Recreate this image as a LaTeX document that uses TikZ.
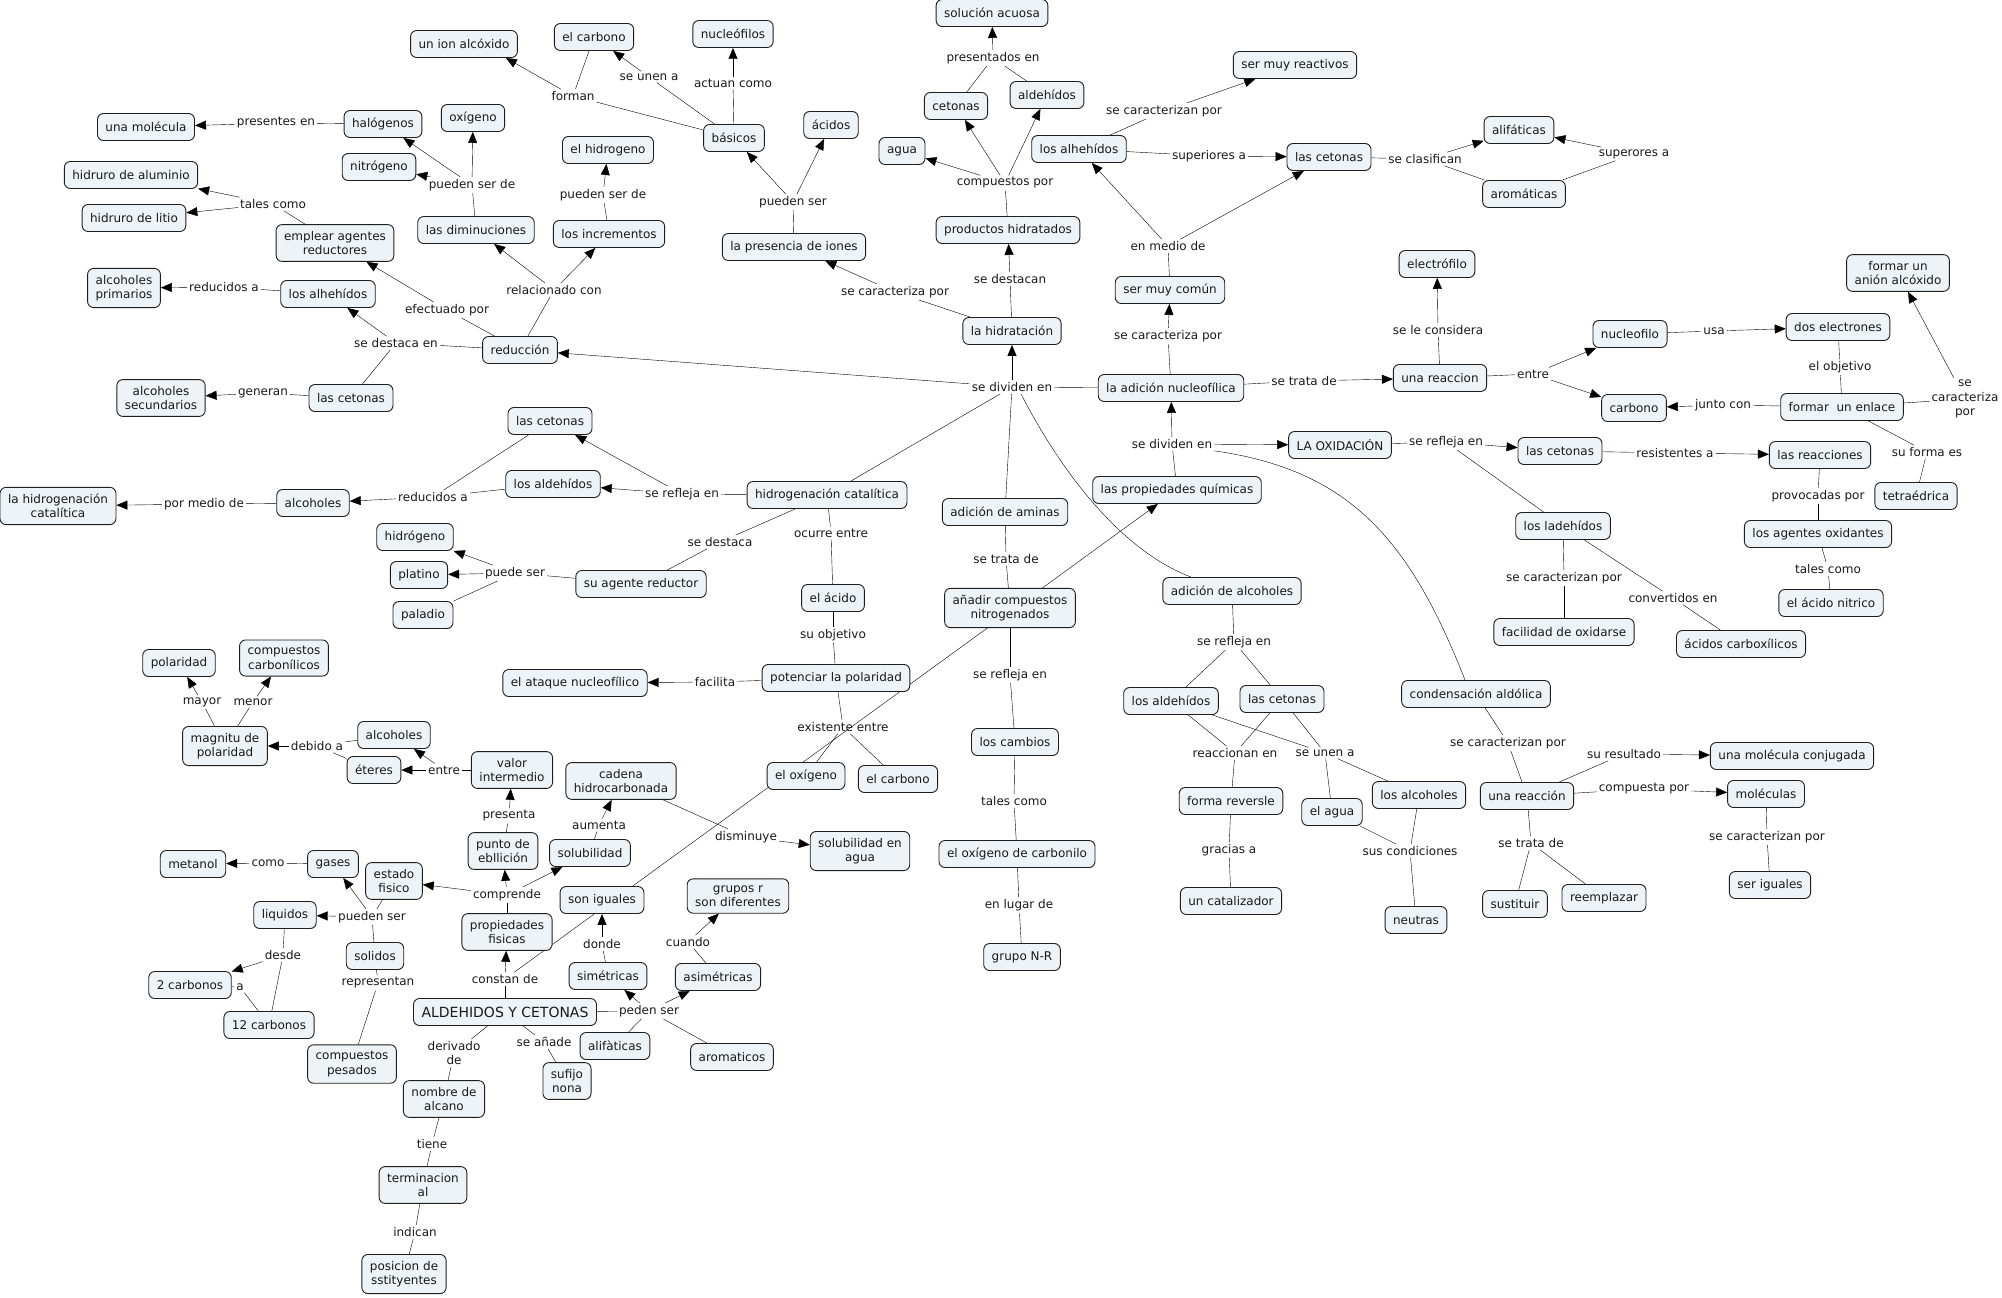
\documentclass[tikz,border=0pt]{standalone}
\usepackage{fontspec}
\setmainfont{DejaVu Sans}
\usetikzlibrary{arrows.meta,backgrounds}
\definecolor{cfill}{RGB}{237,243,246}
\definecolor{cline}{RGB}{30,30,30}
\begin{document}
\begin{tikzpicture}[x=1pt,y=-1pt,
  cpt/.style={draw=cline, fill=cfill, rounded corners=6pt, line width=0.9pt, inner xsep=8pt, inner ysep=6.5pt, minimum height=27pt, align=center, font=\fontsize{12}{14.5}\selectfont, text=black!90},
  lbl/.style={inner sep=2pt, align=center, font=\fontsize{12}{14.5}\selectfont, text=black!90},
  arr/.style={-{Triangle[length=11pt,width=9pt]}}]
\useasboundingbox (0,0) rectangle (2002,1298);
% ---------------- concepts ----------------
\node[cpt] (c_union) at (464,44) {un ion alcóxido};
\node[cpt] (c_molec) at (146,127) {una molécula};
\node[cpt] (c_halog) at (383,124) {halógenos};
\node[cpt] (c_oxig) at (473,118) {oxígeno};
\node[cpt] (c_nitro) at (379,167) {nitrógeno};
\node[cpt] (c_hidal) at (131,175) {hidruro de aluminio};
\node[cpt] (c_hidli) at (134,218) {hidruro de litio};
\node[cpt] (c_emplear) at (335,243) {emplear agentes\\reductores};
\node[cpt] (c_dimin) at (476,230) {las diminuciones};
\node[cpt] (c_alcprim) at (124,288) {alcoholes\\primarios};
\node[cpt] (c_alhL) at (328,294) {los alhehídos};
\node[cpt] (c_reduc) at (520,350) {reducción};
\node[cpt] (c_alcsec) at (161,398) {alcoholes\\secundarios};
\node[cpt] (c_cetL) at (351,398) {las cetonas};
\node[cpt] (c_carbT) at (594,37) {el carbono};
\node[cpt] (c_nucleof) at (733,34) {nucleófilos};
\node[cpt] (c_basic) at (734,138) {básicos};
\node[cpt] (c_acid) at (831,125) {ácidos};
\node[cpt] (c_hidrog) at (608,150) {el hidrogeno};
\node[cpt] (c_incr) at (609,234) {los incrementos};
\node[cpt] (c_presion) at (794,247) {la presencia de iones};
\node[cpt] (c_cetT) at (956,106) {cetonas};
\node[cpt] (c_agua) at (902,151) {agua};
\node[cpt] (c_solac) at (992,13) {solución acuosa};
\node[cpt] (c_aldT) at (1047,95) {aldehídos};
\node[cpt] (c_prodh) at (1008,230) {productos hidratados};
\node[cpt] (c_hidrat) at (1012,331) {la hidratación};
\node[cpt] (c_reactiv) at (1295,65) {ser muy reactivos};
\node[cpt] (c_alhR) at (1079,149) {los alhehídos};
\node[cpt] (c_cetTR) at (1329,157) {las cetonas};
\node[cpt] (c_alif) at (1519,130) {alifáticas};
\node[cpt] (c_arom) at (1524,194) {aromáticas};
\node[cpt] (c_comun) at (1170,290) {ser muy común};
\node[cpt] (c_electro) at (1437,264) {electrófilo};
\node[cpt] (c_adnuc) at (1171,388) {la adición nucleofílica};
\node[cpt] (c_reacc) at (1440,378) {una reaccion};
\node[cpt] (c_oxid) at (1340,445) {LA OXIDACIÓN};
\node[cpt] (c_anion) at (1898,273) {formar un\\anión alcóxido};
\node[cpt] (c_nucleo) at (1630,334) {nucleofilo};
\node[cpt] (c_dosel) at (1838,327) {dos electrones};
\node[cpt] (c_carbR) at (1634,408) {carbono};
\node[cpt] (c_enlace) at (1842,407) {formar\ \ un enlace};
\node[cpt] (c_cetO) at (1560,451) {las cetonas};
\node[cpt] (c_reacs) at (1820,455) {las reacciones};
\node[cpt] (c_tetra) at (1916,496) {tetraédrica};
\node[cpt] (c_ladeh) at (1563,526) {los ladehídos};
\node[cpt] (c_agox) at (1818,534) {los agentes oxidantes};
\node[cpt] (c_nitric) at (1831,603) {el ácido nitrico};
\node[cpt] (c_facil) at (1564,632) {facilidad de oxidarse};
\node[cpt] (c_carbox) at (1741,644) {ácidos carboxílicos};
\node[cpt] (c_molconj) at (1792,756) {una molécula conjugada};
\node[cpt] (c_molecs) at (1766,794) {moléculas};
\node[cpt] (c_sust) at (1515,904) {sustituir};
\node[cpt] (c_reemp) at (1604,898) {reemplazar};
\node[cpt] (c_seri) at (1770,885) {ser iguales};
\node[cpt] (c_hidcat) at (58,506) {la hidrogenación\\catalítica};
\node[cpt] (c_alcM) at (313,503) {alcoholes};
\node[cpt] (c_hidro) at (415,537) {hidrógeno};
\node[cpt] (c_plat) at (419,575) {platino};
\node[cpt] (c_palad) at (423,615) {paladio};
\node[cpt] (c_polar) at (179,663) {polaridad};
\node[cpt] (c_compc) at (284,658) {compuestos\\carbonílicos};
\node[cpt] (c_magn) at (225,746) {magnitu de\\polaridad};
\node[cpt] (c_alcL) at (394,735) {alcoholes};
\node[cpt] (c_eter) at (374,770) {éteres};
\node[cpt] (c_valor) at (512,770) {valor\\intermedio};
\node[cpt] (c_punto) at (503,851) {punto de\\ebllición};
\node[cpt] (c_metan) at (193,864) {metanol};
\node[cpt] (c_gases) at (333,864) {gases};
\node[cpt] (c_estado) at (394,881) {estado\\fisico};
\node[cpt] (c_cetM) at (550,421) {las cetonas};
\node[cpt] (c_aldM) at (553,484) {los aldehídos};
\node[cpt] (c_hcat) at (827,495) {hidrogenación catalítica};
\node[cpt] (c_agred) at (641,584) {su agente reductor};
\node[cpt] (c_acido) at (833,598) {el ácido};
\node[cpt] (c_ataque) at (575,683) {el ataque nucleofílico};
\node[cpt] (c_potenc) at (836,678) {potenciar la polaridad};
\node[cpt] (c_oxM) at (806,776) {el oxígeno};
\node[cpt] (c_carbM) at (898,779) {el carbono};
\node[cpt] (c_cadena) at (621,781) {cadena\\hidrocarbonada};
\node[cpt] (c_solub) at (590,853) {solubilidad};
\node[cpt] (c_solag) at (860,851) {solubilidad en\\agua};
\node[cpt] (c_adam) at (1005,512) {adición de aminas};
\node[cpt] (c_anadir) at (1010,608) {añadir compuestos\\nitrogenados};
\node[cpt] (c_cambios) at (1015,742) {los cambios};
\node[cpt] (c_oxcarb) at (1017,854) {el oxígeno de carbonilo};
\node[cpt] (c_grupo) at (1022,957) {grupo N-R};
\node[cpt] (c_propq) at (1177,490) {las propiedades químicas};
\node[cpt] (c_adalc) at (1232,591) {adición de alcoholes};
\node[cpt] (c_aldR) at (1171,701) {los aldehídos};
\node[cpt] (c_cetR) at (1282,699) {las cetonas};
\node[cpt] (c_forma) at (1231,801) {forma reversle};
\node[cpt] (c_elagua) at (1332,812) {el agua};
\node[cpt] (c_losalc) at (1419,795) {los alcoholes};
\node[cpt] (c_conden) at (1476,694) {condensación aldólica};
\node[cpt] (c_unareac) at (1527,796) {una reacción};
\node[cpt] (c_catal) at (1231,901) {un catalizador};
\node[cpt] (c_neutr) at (1416,920) {neutras};
\node[cpt] (c_liq) at (285,915) {liquidos};
\node[cpt] (c_sol) at (375,956) {solidos};
\node[cpt] (c_2c) at (190,985) {2 carbonos};
\node[cpt] (c_12c) at (269,1025) {12 carbonos};
\node[cpt] (c_comppes) at (352,1064) {compuestos\\pesados};
\node[cpt, font=\fontsize{14}{16}\selectfont] (c_main) at (505,1012) {ALDEHIDOS Y CETONAS};
\node[cpt] (c_nombre) at (444,1099) {nombre de\\alcano};
\node[cpt] (c_term) at (423,1185) {terminacion\\al};
\node[cpt] (c_posic) at (404,1274) {posicion de\\sstityentes};
\node[cpt] (c_propf) at (507,932) {propiedades\\fisicas};
\node[cpt] (c_soniq) at (602,900) {son iguales};
\node[cpt] (c_grupr) at (738,896) {grupos r\\son diferentes};
\node[cpt] (c_sim) at (608,976) {simétricas};
\node[cpt] (c_asim) at (718,977) {asimétricas};
\node[cpt] (c_alifa) at (615,1046) {alifàticas};
\node[cpt] (c_aromo) at (732,1057) {aromaticos};
\node[cpt] (c_sufijo) at (567,1081) {sufijo\\nona};
% ---------------- linking phrases ----------------
\node[lbl] (l1) at (276,123) {presentes en};
\node[lbl] (l2) at (472,185) {pueden ser de};
\node[lbl] (l3) at (273,204) {tales como};
\node[lbl] (l4) at (224,287) {reducidos a};
\node[lbl] (l5) at (447,310) {efectuado por};
\node[lbl] (l6) at (396,343) {se destaca en};
\node[lbl] (l7) at (263,393) {generan};
\node[lbl] (l8) at (554,290) {relacionado con};
\node[lbl] (l9) at (603,195) {pueden ser de};
\node[lbl] (l10) at (573,96) {forman};
\node[lbl] (l10b) at (649,77) {se unen a};
\node[lbl] (l11) at (733,83) {actuan como};
\node[lbl] (l12) at (793,202) {pueden ser};
\node[lbl] (l13) at (895,292) {se caracteriza por};
\node[lbl] (l14) at (1010,279) {se destacan};
\node[lbl] (l15) at (1005,183) {compuestos por};
\node[lbl] (l16) at (993,58) {presentados en};
\node[lbl] (l17) at (1164,111) {se caracterizan por};
\node[lbl] (l18) at (1209,156) {superiores a};
\node[lbl] (l19) at (1425,159) {se clasifican};
\node[lbl] (l20) at (1634,154) {superores a};
\node[lbl] (l21) at (1168,246) {en medio de};
\node[lbl] (l22) at (1168,336) {se caracteriza por};
\node[lbl] (l23) at (1304,381) {se trata de};
\node[lbl] (l24) at (1438,330) {se le considera};
\node[lbl] (l25) at (1533,374) {entre};
\node[lbl] (l26) at (1714,331) {usa};
\node[lbl] (l27) at (1840,367) {el objetivo};
\node[lbl] (l28) at (1723,405) {junto con};
\node[lbl] (l29) at (1965,399) {se\\caracteriza\\por};
\node[lbl] (l30) at (1927,452) {su forma es};
\node[lbl] (l31) at (1172,444) {se dividen en};
\node[lbl] (l32) at (1446,442) {se refleja en};
\node[lbl] (l33) at (1675,453) {resistentes a};
\node[lbl] (l34) at (1818,496) {provocadas por};
\node[lbl] (l35) at (1828,569) {tales como};
\node[lbl] (l36) at (1564,578) {se caracterizan por};
\node[lbl] (l37) at (1673,598) {convertidos en};
\node[lbl] (l38) at (1508,743) {se caracterizan por};
\node[lbl] (l39) at (1624,754) {su resultado};
\node[lbl] (l40) at (1644,789) {compuesta por};
\node[lbl] (l41) at (1531,843) {se trata de};
\node[lbl] (l42) at (1767,837) {se caracterizan por};
\node[lbl] (l43) at (1012,387) {se dividen en};
\node[lbl] (l44) at (682,494) {se refleja en};
\node[lbl] (l45) at (433,497) {reducidos a};
\node[lbl] (l46) at (204,504) {por medio de};
\node[lbl] (l47) at (720,542) {se destaca};
\node[lbl] (l48) at (515,573) {puede ser};
\node[lbl] (l49) at (831,533) {ocurre entre};
\node[lbl] (l50) at (833,635) {su objetivo};
\node[lbl] (l51) at (715,682) {facilita};
\node[lbl] (l52) at (843,727) {existente entre};
\node[lbl] (l53) at (1006,559) {se trata de};
\node[lbl] (l54) at (1010,675) {se refleja en};
\node[lbl] (l55) at (1014,801) {tales como};
\node[lbl] (l56) at (1019,905) {en lugar de};
\node[lbl] (l57) at (1234,642) {se refleja en};
\node[lbl] (l58) at (1235,753) {reaccionan en};
\node[lbl] (l59) at (1325,753) {se unen a};
\node[lbl] (l60) at (1229,850) {gracias a};
\node[lbl] (l61) at (1410,851) {sus condiciones};
\node[lbl] (l62) at (505,979) {constan de};
\node[lbl] (l63) at (507,895) {comprende};
\node[lbl] (l64) at (509,816) {presenta};
\node[lbl] (l65) at (444,770) {entre};
\node[lbl] (l66) at (317,746) {debido a};
\node[lbl] (l67) at (202,702) {mayor};
\node[lbl] (l68) at (253,702) {menor};
\node[lbl] (l69) at (599,825) {aumenta};
\node[lbl] (l70) at (746,837) {disminuye};
\node[lbl] (l71) at (372,917) {pueden ser};
\node[lbl] (l72) at (268,863) {como};
\node[lbl] (l73) at (283,955) {desde};
\node[lbl] (l74) at (240,987) {a};
\node[lbl] (l75) at (378,983) {representan};
\node[lbl] (l76) at (454,1053) {derivado\\de};
\node[lbl] (l77) at (432,1144) {tiene};
\node[lbl] (l78) at (415,1232) {indican};
\node[lbl] (l79) at (544,1042) {se añade};
\node[lbl] (l80) at (649,1011) {peden ser};
\node[lbl] (l81) at (602,944) {donde};
\node[lbl] (l82) at (688,942) {cuando};
% ---------------- connectors ----------------
\begin{scope}[on background layer, cline, line width=0.8pt]
\draw (c_halog) -- (l1); \draw[arr] (l1) -- (c_molec);
\draw (c_dimin) -- (l2); \draw[arr] (l2) -- (c_halog); \draw[arr] (l2) -- (c_oxig); \draw[arr] (l2) -- (c_nitro);
\draw (c_emplear) -- (l3); \draw[arr] (l3) -- (c_hidal); \draw[arr] (l3) -- (c_hidli);
\draw (c_alhL) -- (l4); \draw[arr] (l4) -- (c_alcprim);
\draw (c_reduc) -- (l5); \draw[arr] (l5) -- (c_emplear);
\draw (c_reduc) -- (l6); \draw[arr] (l6) -- (c_alhL); \draw (l6) -- (c_cetL);
\draw (c_cetL) -- (l7); \draw[arr] (l7) -- (c_alcsec);
\draw (c_reduc) -- (l8); \draw[arr] (l8) -- (c_dimin); \draw[arr] (l8) -- (c_incr);
\draw (c_incr) -- (l9); \draw[arr] (l9) -- (c_hidrog);
\draw (c_basic) -- (l10); \draw[arr] (l10) -- ([xshift=-12pt]c_union.south east); \draw (c_carbT) -- (l10);
\draw (c_basic) -- (l10b); \draw[arr] (l10b) -- (c_carbT);
\draw (c_basic) -- (l11); \draw[arr] (l11) -- (c_nucleof);
\draw (c_presion) -- (l12); \draw[arr] (l12) -- (c_basic); \draw[arr] (l12) -- (c_acid);
\draw (c_hidrat) -- (l13); \draw[arr] (l13) -- (c_presion);
\draw (c_hidrat) -- (l14); \draw[arr] (l14) -- (c_prodh);
\draw (c_prodh) -- (l15); \draw[arr] (l15) -- (c_agua); \draw[arr] (l15) -- (c_cetT); \draw[arr] (l15) -- (c_aldT);
\draw (c_cetT) -- (l16); \draw (c_aldT) -- (l16); \draw[arr] (l16) -- (c_solac);
\draw (c_alhR) -- (l17); \draw[arr] (l17) -- (c_reactiv);
\draw (c_alhR) -- (l18); \draw[arr] (l18) -- (c_cetTR);
\draw (c_cetTR) -- (l19); \draw[arr] (l19) -- (c_alif); \draw (l19) -- (c_arom);
\draw (c_arom) -- (l20); \draw[arr] (l20) -- (c_alif);
\draw (c_comun) -- (l21); \draw[arr] (l21) -- (c_alhR); \draw[arr] (l21) -- (c_cetTR);
\draw (c_adnuc) -- (l22); \draw[arr] (l22) -- (c_comun);
\draw (c_adnuc) -- (l23); \draw[arr] (l23) -- (c_reacc);
\draw (c_reacc) -- (l24); \draw[arr] (l24) -- (c_electro);
\draw (c_reacc) -- (l25); \draw[arr] (l25) -- (c_nucleo); \draw[arr] (l25) -- (c_carbR);
\draw (c_nucleo) -- (l26); \draw[arr] (l26) -- (c_dosel);
\draw (c_dosel) -- (l27); \draw (l27) -- (c_enlace);
\draw (c_enlace) -- (l28); \draw[arr] (l28) -- (c_carbR);
\draw (c_enlace) -- (l29); \draw[arr] (l29) -- (c_anion);
\draw (c_enlace) -- (l30); \draw (l30) -- (c_tetra);
\draw (c_propq) -- (l31); \draw[arr] (l31) -- (c_adnuc); \draw[arr] (l31) -- (c_oxid);
\draw (l31.south east) .. controls (1350,470) and (1410,540) .. ([xshift=-11pt]c_conden.north);
\draw (c_oxid) -- (l32); \draw[arr] (l32) -- (c_cetO); \draw (l32) -- (c_ladeh);
\draw (c_cetO) -- (l33); \draw[arr] (l33) -- (c_reacs);
\draw (c_reacs) -- (l34); \draw (l34) -- (c_agox);
\draw (c_agox) -- (l35); \draw (l35) -- (c_nitric);
\draw (c_ladeh) -- (l36); \draw (l36) -- (c_facil);
\draw (c_ladeh) -- (l37); \draw (l37) -- (c_carbox);
\draw (c_conden) -- (l38); \draw (l38) -- (c_unareac);
\draw (c_unareac) -- (l39); \draw[arr] (l39) -- (c_molconj);
\draw (c_unareac) -- (l40); \draw[arr] (l40) -- (c_molecs);
\draw (c_unareac) -- (l41); \draw (l41) -- (c_sust); \draw (l41) -- (c_reemp);
\draw (c_molecs) -- (l42); \draw (l42) -- (c_seri);
\draw (c_adnuc) -- (l43); \draw[arr] (l43) -- (c_hidrat); \draw[arr] (l43) -- (c_reduc);
\draw (l43) -- (c_hcat); \draw (l43) -- (c_adam);
\draw ([xshift=9pt]l43.south) .. controls (1060,470) and (1120,550) .. ([xshift=-41pt]c_adalc.north);
\draw (c_hcat) -- (l44); \draw[arr] (l44) -- (c_aldM); \draw[arr] (l44) -- (c_cetM);
\draw (c_aldM) -- (l45); \draw (c_cetM) -- (l45); \draw[arr] (l45) -- (c_alcM);
\draw (c_alcM) -- (l46); \draw[arr] (l46) -- (c_hidcat);
\draw (c_hcat) -- (l47); \draw (l47) -- (c_agred);
\draw (c_agred) -- (l48); \draw[arr] (l48) -- (c_hidro); \draw[arr] (l48) -- (c_plat); \draw (l48) -- (c_palad);
\draw (c_hcat) -- (l49); \draw (l49) -- (c_acido);
\draw (c_acido) -- (l50); \draw (l50) -- (c_potenc);
\draw (c_potenc) -- (l51); \draw[arr] (l51) -- (c_ataque);
\draw (c_potenc) -- (l52); \draw (l52) -- (c_oxM); \draw (l52) -- (c_carbM);
\draw (c_adam) -- (l53); \draw (l53) -- (c_anadir);
\draw (c_anadir) -- (l54); \draw (l54) -- (c_cambios);
\draw (c_cambios) -- (l55); \draw (l55) -- (c_oxcarb);
\draw (c_oxcarb) -- (l56); \draw (l56) -- (c_grupo);
\draw (c_adalc) -- (l57); \draw (l57) -- (c_aldR); \draw (l57) -- (c_cetR);
\draw (c_aldR) -- (l58); \draw (c_cetR) -- (l58); \draw (l58) -- (c_forma);
\draw (c_aldR) -- (l59); \draw (c_cetR) -- (l59); \draw (l59) -- (c_elagua); \draw (l59) -- (c_losalc);
\draw (c_forma) -- (l60); \draw (l60) -- (c_catal);
\draw (c_elagua) -- (l61); \draw (c_losalc) -- (l61); \draw (l61) -- (c_neutr);
\draw (c_main) -- (l62); \draw[arr] (l62) -- (c_propf); \draw[arr] (l62) -- (c_propq);
\draw (c_propf) -- (l63); \draw[arr] (l63) -- (c_estado); \draw[arr] (l63) -- (c_punto); \draw[arr] (l63) -- (c_solub);
\draw (c_punto) -- (l64); \draw[arr] (l64) -- (c_valor);
\draw (c_valor) -- (l65); \draw[arr] (l65) -- (c_alcL); \draw[arr] (l65) -- (c_eter);
\draw (c_alcL) -- (l66); \draw (c_eter) -- (l66); \draw[arr] (l66) -- (c_magn);
\draw (c_magn) -- (l67); \draw[arr] (l67) -- (c_polar);
\draw (c_magn) -- (l68); \draw[arr] (l68) -- (c_compc);
\draw (c_solub) -- (l69); \draw[arr] (l69) -- (c_cadena);
\draw (c_cadena) -- (l70); \draw[arr] (l70) -- (c_solag);
\draw (c_estado) -- (l71); \draw[arr] (l71) -- (c_gases); \draw[arr] (l71) -- (c_liq); \draw (l71) -- (c_sol);
\draw (c_gases) -- (l72); \draw[arr] (l72) -- (c_metan);
\draw (c_liq) -- (l73); \draw[arr] (l73) -- (c_2c); \draw (l73) -- (c_12c);
\draw (c_2c) -- (l74); \draw (l74) -- (c_12c);
\draw (c_sol) -- (l75); \draw (l75) -- (c_comppes);
\draw (c_main) -- (l76); \draw (l76) -- (c_nombre);
\draw (c_nombre) -- (l77); \draw (l77) -- (c_term);
\draw (c_term) -- (l78); \draw (l78) -- (c_posic);
\draw (c_main) -- (l79); \draw (l79) -- (c_sufijo);
\draw (c_main) -- (l80); \draw[arr] (l80) -- (c_sim); \draw[arr] (l80) -- (c_asim); \draw (l80) -- (c_alifa); \draw (l80) -- (c_aromo);
\draw (c_sim) -- (l81); \draw[arr] (l81) -- (c_soniq);
\draw (c_asim) -- (l82); \draw[arr] (l82) -- (c_grupr);
\end{scope}
\end{tikzpicture}
\end{document}
